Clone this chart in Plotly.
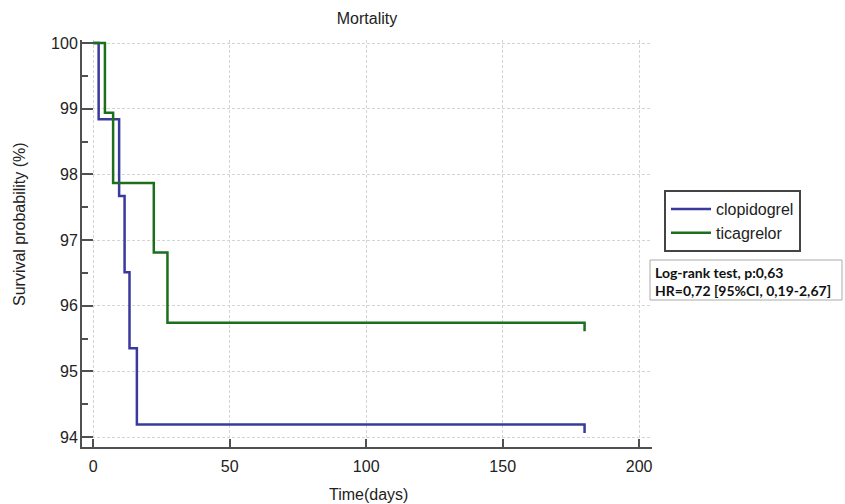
import plotly.graph_objects as go

# ---- data ----
clop_days = [0, 2, 9.5, 11.5, 13.3, 16, 180]
clop_surv = [100, 98.84, 97.67, 96.51, 95.35, 94.19, 94.19]
tica_days = [0, 4.3, 7.3, 22.2, 27.2, 180]
tica_surv = [100, 98.94, 97.87, 96.81, 95.74, 95.74]
censor_tick = 0.13  # length of the censor mark drawn at end of follow-up

x_ticks = [0, 50, 100, 150, 200]
y_ticks = [94, 95, 96, 97, 98, 99, 100]

BLUE = "#3a3a9c"
GREEN = "#1d6e1d"
AXC = "#505050"
FONT = "Liberation Sans, Arial, sans-serif"

# plot area in pixels
L, R, T, B = 82, 652, 40, 447
PW, PH = R - L, B - T


def with_censor(days, surv):
    return days + [days[-1]], surv + [surv[-1] - censor_tick]


fig = go.Figure()
cx, cy = with_censor(clop_days, clop_surv)
tx, ty = with_censor(tica_days, tica_surv)
fig.add_trace(go.Scatter(x=cx, y=cy, mode="lines", name="clopidogrel",
                         line=dict(color=BLUE, width=2.5, shape="hv")))
fig.add_trace(go.Scatter(x=tx, y=ty, mode="lines", name="ticagrelor",
                         line=dict(color=GREEN, width=2.5, shape="hv")))

fig.update_layout(
    width=845, height=504,
    margin=dict(l=L, r=845 - R, t=T, b=504 - B, autoexpand=False),
    paper_bgcolor="white", plot_bgcolor="white",
    font=dict(family=FONT, size=16, color="#222"),
    title=dict(text="Mortality", x=(L + R) / 2 / 845, xanchor="center",
               y=1 - 18 / 504, yanchor="middle",
               font=dict(family=FONT, size=16, color="#222")),
    showlegend=True,
    legend=dict(x=(664 - L) / PW, xanchor="left", y=(B - 190) / PH, yanchor="top",
                bordercolor="#444", borderwidth=2, bgcolor="white",
                font=dict(family=FONT, size=16, color="#222"),
                itemwidth=40, tracegroupgap=0),
)

fig.update_xaxes(
    range=[-4.1, 204.7], tickvals=x_ticks, ticktext=[str(v) for v in x_ticks],
    showline=True, linecolor=AXC, linewidth=2,
    ticks="inside", ticklen=8, tickwidth=2, tickcolor=AXC,
    showgrid=True, gridcolor="#d4d4d4", gridwidth=1, griddash="3px,2px",
    zeroline=False, tickfont=dict(size=16, color="#222"), ticklabelstandoff=4,
    automargin=False,
)
fig.update_yaxes(
    range=[93.848, 100.046], tickvals=y_ticks, ticktext=[str(v) for v in y_ticks],
    showline=True, linecolor=AXC, linewidth=2,
    ticks="inside", ticklen=11, tickwidth=2, tickcolor=AXC,
    minor=dict(dtick=0.5, tick0=94, ticks="inside", ticklen=6, tickwidth=2,
               tickcolor=AXC, showgrid=False),
    showgrid=True, gridcolor="#d4d4d4", gridwidth=1, griddash="3px,2px",
    zeroline=False, tickfont=dict(size=16, color="#222"), ticklabelstandoff=-1,
    automargin=False,
)

# axis titles
fig.add_annotation(xref="paper", yref="paper", x=(368 - L) / PW, y=(B - 494) / PH,
                   xanchor="center", yanchor="middle", showarrow=False,
                   text="Time(days)", font=dict(family=FONT, size=16, color="#222"))
fig.add_annotation(xref="paper", yref="paper", x=(20 - L) / PW, y=(B - 224) / PH,
                   xanchor="center", yanchor="middle", showarrow=False, textangle=-90,
                   text="Survival probability (%)", font=dict(family=FONT, size=16, color="#222"))

# statistics box
fig.add_shape(type="rect", xref="paper", yref="paper",
              x0=(650 - L) / PW, x1=(842 - L) / PW,
              y0=(B - 300) / PH, y1=(B - 260) / PH,
              line=dict(color="#aaaaaa", width=1), fillcolor="white", layer="above")
fig.add_annotation(
    xref="paper", yref="paper", x=(653 - L) / PW, y=(B - 281) / PH,
    xanchor="left", yanchor="middle", align="left", showarrow=False,
    text="<b>Log-rank test, p:0,63<br>HR=0,72 [95%CI, 0,19-2,67]</b>",
    font=dict(family="Lato, Open Sans, sans-serif", size=14, color="#111"),
)

fig.write_html("out.html")
